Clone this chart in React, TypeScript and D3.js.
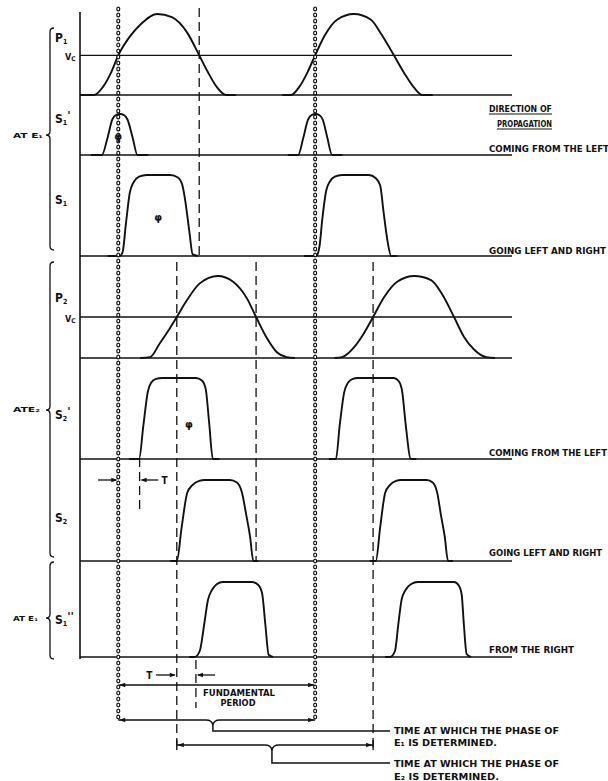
import React, { useEffect, useRef } from 'react';
import * as d3 from 'd3';

// time axis is phase in degrees, one fundamental period = 360
const phaseDomain = [-70, 720];

const rowNames = ['P', 'S', 'S', 'P', 'S', 'S', 'S'];
const rowSubs = ['1', '1', '1', '2', '2', '2', '1'];
const rowMarks = ['', "'", '', '', "'", '', "''"];
const vcLevels = [0.49, null, null, 0.5, null, null, null];
const directionTitle = ['DIRECTION OF', 'PROPAGATION'];
const directions = ['', 'COMING FROM THE LEFT', 'GOING LEFT AND RIGHT', '', 'COMING FROM THE LEFT', 'GOING LEFT AND RIGHT', 'FROM THE RIGHT'];
const groupNames = ['AT E\u2081', 'ATE\u2082', 'AT E\u2081'];

// [phase, level] of each pulse; level 0 = baseline, 1 = crest of the trace
const p1Pulses = [
  [[-70, 0], [-44, 0], [-28, 0.1], [-13, 0.28], [0, 0.49], [21, 0.72], [42, 0.88], [71, 1], [98, 0.96], [126, 0.77], [148, 0.49], [164, 0.28], [180, 0.1], [197, 0], [215, 0]],
  [[300, 0], [316, 0], [331, 0.1], [346, 0.28], [360, 0.49], [378, 0.74], [400, 0.93], [431, 1], [462, 0.93], [482, 0.74], [504, 0.49], [523, 0.27], [541, 0.09], [556, 0], [575, 0]],
];
const s1PrimePulses = [
  [[-50, 0], [-30, 0], [-20, 0.4], [-11, 0.86], [-5, 0.97], [3, 1], [11, 0.97], [17, 0.86], [26, 0.44], [35, 0], [55, 0]],
  [[310, 0], [329, 0], [338, 0.4], [347, 0.86], [353, 0.97], [361, 1], [368, 0.97], [374, 0.86], [382, 0.44], [391, 0], [410, 0]],
];
const s1Pulses = [
  [[-20, 0], [3, 0], [8, 0.05], [14, 0.4], [21, 0.78], [28, 0.91], [38, 0.98], [52, 1], [95, 1], [109, 0.97], [117, 0.88], [123, 0.66], [130, 0.3], [136, 0.02], [146, 0]],
  [[340, 0], [362, 0], [368, 0.12], [373, 0.45], [380, 0.8], [387, 0.92], [396, 0.98], [409, 1], [458, 1], [471, 0.96], [479, 0.87], [485, 0.55], [492, 0.2], [499, 0], [510, 0]],
];
const p2Pulses = [
  [[40, 0], [58, 0.01], [76, 0.18], [95, 0.37], [107, 0.5], [126, 0.71], [149, 0.91], [182, 1], [210, 0.93], [235, 0.73], [252, 0.5], [272, 0.24], [290, 0.07], [308, 0.01], [323, 0]],
  [[395, 0], [409, 0.01], [431, 0.13], [449, 0.3], [466, 0.5], [486, 0.74], [510, 0.93], [541, 1], [572, 0.95], [592, 0.78], [614, 0.5], [632, 0.26], [651, 0.1], [673, 0.01], [689, 0]],
];
const s2PrimePulses = [
  [[20, 0], [38, 0], [46, 0.42], [54, 0.83], [60, 0.94], [69, 0.99], [80, 1], [142, 1], [153, 0.97], [160, 0.86], [166, 0.46], [173, 0], [185, 0]],
  [[385, 0], [398, 0], [405, 0.42], [413, 0.82], [420, 0.94], [429, 0.99], [438, 1], [504, 1], [513, 0.96], [519, 0.84], [526, 0.4], [535, 0], [545, 0]],
];
const s2Pulses = [
  [[95, 0], [107, 0], [116, 0.42], [126, 0.84], [136, 0.94], [148, 0.99], [158, 1], [204, 1], [217, 0.97], [226, 0.85], [234, 0.57], [241, 0.3], [247, 0], [256, 0]],
  [[460, 0], [471, 0], [479, 0.42], [488, 0.84], [497, 0.94], [508, 0.99], [517, 1], [564, 1], [575, 0.97], [583, 0.85], [590, 0.57], [597, 0.3], [603, 0], [612, 0]],
];
const s1SecondPulses = [
  [[130, 0], [140, 0], [149, 0.08], [157, 0.43], [164, 0.76], [171, 0.89], [180, 0.97], [191, 1], [244, 1], [256, 0.96], [263, 0.85], [269, 0.43], [275, 0.03], [283, 0]],
  [[488, 0], [497, 0], [506, 0.08], [512, 0.43], [518, 0.76], [525, 0.89], [535, 0.97], [548, 1], [614, 1], [623, 0.95], [628, 0.83], [632, 0.43], [637, 0.04], [645, 0]],
];
const rowPulses = [p1Pulses, s1PrimePulses, s1Pulses, p2Pulses, s2PrimePulses, s2Pulses, s1SecondPulses];

// phase where P1 and P2 cross Vc, and where the delayed pulses start
const p1Crossings = [0, 148, 360];
const p2Crossings = [107, 252, 466];
const delayedStarts = [39, 142];
const phiMarks = [[1, 0, 0.46], [2, 73, 0.47], [4, 129, 0.42]];
const phaseE1Window = [0, 360, 173];
const phaseE2Window = [107, 466, 281];
const timeLabels = ['TIME AT WHICH THE PHASE OF', 'E\u2081 IS DETERMINED.', 'TIME AT WHICH THE PHASE OF', 'E\u2082 IS DETERMINED.'];

// layout
const rowBase = [95, 155, 256, 358, 459, 561, 657];
const rowHeight = [81, 41, 81, 82, 81, 81, 75];
const labelY = [42, 123, 204, 302, 419, 522, 624];
const dirY = [0, 152, 254, 0, 456, 556, 653];
const dirWidth = [0, 120, 117, 0, 118, 113, 85];
const braceSpans = [[28, 250, 135], [262, 557, 410], [562, 659, 618]];
const groupLabelY = [138, 412, 621];
const groupLabelW = [30, 27, 25];

const FONT = "'Liberation Sans Narrow', 'DejaVu Sans Condensed', 'Liberation Sans', sans-serif";

const App = () => {
  const ref = useRef<SVGSVGElement>(null);

  useEffect(() => {
    const svg = d3.select(ref.current);
    svg.selectAll('*').remove();
    svg.append('rect').attr('width', 608).attr('height', 781).attr('fill', '#fff');
    const g = svg.append('g').attr('fill', 'none').attr('stroke', '#111');

    const x = d3.scaleLinear().domain(phaseDomain).range([80, 512]);
    const rowY = rowBase.map((b, i) => d3.scaleLinear().domain([0, 1]).range([b, b - rowHeight[i]]));

    const vline = (px: number, y1: number, y2: number, w = 1.4, dash: string | null = null) =>
      g.append('line').attr('x1', px).attr('x2', px).attr('y1', y1).attr('y2', y2)
        .attr('stroke-width', w).attr('stroke-dasharray', dash);
    const hline = (x1: number, x2: number, y: number, w = 1.3) =>
      g.append('line').attr('x1', x1).attr('x2', x2).attr('y1', y).attr('y2', y).attr('stroke-width', w);
    const arrow = (tipX: number, y: number, dir: number) =>
      g.append('path').attr('d', `M${tipX},${y}l${-dir * 6},-2.2l0,4.4z`).attr('fill', '#111').attr('stroke', 'none');
    const text = (s: string, tx: number, ty: number, size: number, len?: number, anchor = 'start') => {
      const t = svg.append('text').attr('x', tx).attr('y', ty).attr('font-family', FONT)
        .attr('font-size', size).attr('font-weight', 'bold').attr('fill', '#111')
        .attr('text-anchor', anchor).text(s);
      if (len) t.attr('textLength', len).attr('lengthAdjust', 'spacingAndGlyphs');
      return t;
    };

    // time axis
    vline(80, 12, 659, 1.6);

    // baselines and Vc levels
    rowBase.forEach((b) => hline(x(phaseDomain[0]), x(phaseDomain[1]), b));
    vcLevels.forEach((v, i) => {
      if (v == null) return;
      hline(x(phaseDomain[0]), x(phaseDomain[1]), rowY[i](v));
    });

    // pulses
    rowPulses.forEach((pulses, i) => {
      const line = d3.line<number[]>().x((d) => x(d[0])).y((d) => rowY[i](d[1])).curve(d3.curveMonotoneX);
      pulses.forEach((p) => g.append('path').attr('d', line(p)).attr('stroke-width', 1.9).attr('stroke-linejoin', 'round'));
    });

    // dotted reference lines at the start and end of one period
    [0, 360].forEach((p) => {
      d3.range(9, 721, 6).forEach((cy) => {
        g.append('ellipse').attr('cx', x(p)).attr('cy', cy).attr('rx', 1.5).attr('ry', 1.9)
          .attr('fill', '#fff').attr('stroke-width', 1.2);
      });
    });

    // dashed crossing lines
    const dash = '9,5';
    vline(x(p1Crossings[1]), 8, 256, 1.3, dash);
    vline(x(p2Crossings[0]), 262, 745, 1.3, dash);
    vline(x(p2Crossings[1]), 262, 562, 1.3, dash);
    vline(x(p2Crossings[2]), 262, 748, 1.3, dash);
    vline(x(delayedStarts[0]), 458, 512, 1.3, dash);
    vline(x(delayedStarts[1]), 660, 708, 1.3, dash);

    // T markers
    hline(x(-37), x(0) - 2, 480, 1.3);
    arrow(x(0) - 1, 480, 1);
    hline(x(delayedStarts[0]) + 2, x(73), 480, 1.3);
    arrow(x(delayedStarts[0]) + 1, 480, -1);
    text('T', x(79), 484, 10);

    text('T', x(51), 679, 10);
    hline(x(69), x(p2Crossings[0]) - 2, 675, 1.3);
    arrow(x(p2Crossings[0]) - 1, 675, 1);
    hline(x(delayedStarts[1]) + 2, x(177), 675, 1.3);
    arrow(x(delayedStarts[1]) + 1, 675, -1);

    // fundamental period
    hline(x(0) + 1, x(360) - 1, 685, 1.5);
    arrow(x(0) + 1, 685, -1);
    arrow(x(360) - 1, 685, 1);
    text('FUNDAMENTAL', 239, 696, 8, 72, 'middle');
    text('PERIOD', 238, 706, 8, 35, 'middle');

    // braces under the phase windows
    const brace = (win: number[], y: number, drop: number, endX: number) => {
      const [a, b, tip] = win;
      const tx = x(tip);
      g.append('path').attr('stroke-width', 1.5)
        .attr('d', `M${x(a)},${y}H${tx - 7}Q${tx - 1},${y} ${tx},${y + 5}Q${tx + 1},${y} ${tx + 7},${y}H${x(b)}`);
      g.append('path').attr('stroke-width', 1.5).attr('d', `M${tx},${y + 5}V${y + drop}H${endX}`);
      arrow(x(a) + 1, y, -1);
      arrow(x(b) - 1, y, 1);
    };
    brace(phaseE1Window, 720, 11, 390);
    brace(phaseE2Window, 745, 18, 390);
    vline(x(phaseE2Window[0]), 740, 750, 1.4);
    vline(x(phaseE2Window[1]), 740, 750, 1.4);

    text(timeLabels[0], 394, 734, 8.5, 165);
    text(timeLabels[1], 394, 746, 8.5, 103);
    text(timeLabels[2], 394, 767, 8.5, 165);
    text(timeLabels[3], 394, 780, 8.5, 105);

    // row labels
    rowNames.forEach((n, i) => {
      const t = text(n, 55, labelY[i], 12);
      t.append('tspan').attr('font-size', 7).attr('dy', 2).text(rowSubs[i]);
      if (rowMarks[i]) {
        t.append('tspan').attr('font-size', 11).attr('dy', -6).attr('font-family', 'DejaVu Sans').text(rowMarks[i]);
      }
    });
    vcLevels.forEach((v, i) => {
      if (v == null) return;
      const t = text('V', 65, rowY[i](v) + 5, 9);
      t.append('tspan').attr('font-size', 6.5).attr('dy', 1).text('C');
    });

    // group braces
    braceSpans.forEach(([y0, y1, ym], i) => {
      const xv = 50;
      g.append('path').attr('stroke-width', 1.3)
        .attr('d', `M${xv + 4},${y0}Q${xv},${y0} ${xv},${y0 + 4}V${ym - 4}Q${xv},${ym} ${xv - 4},${ym}Q${xv},${ym} ${xv},${ym + 4}V${y1 - 4}Q${xv},${y1} ${xv + 4},${y1}`);
      text(groupNames[i], 13, groupLabelY[i], 7, groupLabelW[i]);
    });

    // phi marks inside pulses
    phiMarks.forEach(([r, p, v]) =>
      text('\u03c6', x(p), rowY[r](v) + 3.5, 10, undefined, 'middle').attr('font-family', 'DejaVu Sans'));

    // direction of propagation
    text(directionTitle[0], 489, 112, 8, 63);
    text(directionTitle[1], 497, 127, 8, 55);
    hline(489, 552, 114, 1);
    hline(497, 552, 129, 1);
    directions.forEach((d, i) => {
      if (!d) return;
      text(d, 489, dirY[i], 8, dirWidth[i]);
    });
  }, []);

  return (
    <svg ref={ref} width={608} height={781}
      style={{ position: 'absolute', left: 0, top: 0, display: 'block' }} />
  );
};

export default App;
